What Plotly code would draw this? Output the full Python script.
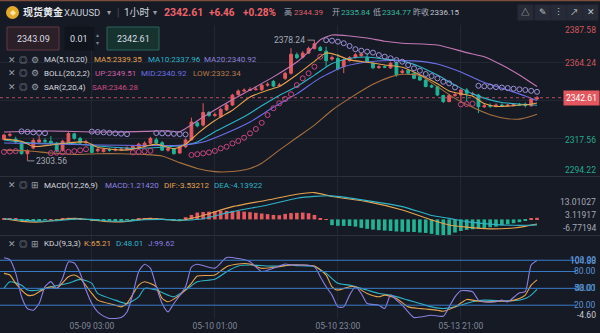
import plotly.graph_objects as go

W, H = 600, 333

# ---------------- 1-hour XAUUSD candles (oldest first) ----------------
opens = [2316.8, 2319.4, 2317.0, 2314.8, 2308.0, 2311.5, 2315.3, 2316.2, 2315.7, 2314.3,
         2310.2, 2315.2, 2320.3, 2317.5, 2314.8, 2313.4, 2309.8, 2309.3, 2310.4, 2310.2,
         2310.5, 2310.7, 2311.1, 2312.0, 2312.3, 2314.5, 2316.6, 2314.8, 2310.2, 2311.1,
         2308.4, 2312.3, 2316.6, 2327.1, 2325.7, 2333.5, 2331.7, 2330.8, 2335.1, 2338.1,
         2344.5, 2346.8, 2347.2, 2347.7, 2347.5, 2350.4, 2352.7, 2350.0, 2354.6, 2357.8,
         2369.2, 2367.7, 2370.2, 2373.0, 2373.7, 2371.4, 2366.5, 2366.9, 2361.8, 2365.5,
         2367.4, 2368.7, 2367.4, 2363.9, 2361.3, 2361.8, 2361.1, 2364.2, 2358.2, 2359.6,
         2357.8, 2355.6, 2353.5, 2350.0, 2349.5, 2344.0, 2340.2, 2344.0, 2344.3, 2347.4,
         2345.0, 2344.3, 2337.0, 2337.8, 2337.1, 2338.1, 2337.8, 2337.6, 2338.4, 2338.6,
         2337.6, 2341.8]
highs = [2320.3, 2321.2, 2318.5, 2315.3, 2310.7, 2317.5, 2318.9, 2317.5, 2318.9, 2315.2,
         2316.6, 2321.7, 2321.0, 2318.4, 2316.6, 2314.3, 2311.5, 2311.5, 2311.3, 2311.5,
         2311.9, 2312.5, 2313.4, 2314.8, 2315.7, 2318.4, 2318.0, 2315.7, 2312.0, 2311.5,
         2313.4, 2317.5, 2330.3, 2328.0, 2339.2, 2334.4, 2333.5, 2336.3, 2339.0, 2345.0,
         2347.7, 2348.4, 2349.1, 2349.5, 2351.3, 2352.2, 2353.6, 2351.8, 2358.7, 2373.2,
         2370.6, 2371.5, 2374.2, 2378.24, 2374.7, 2374.2, 2368.7, 2369.7, 2366.9, 2368.3,
         2370.2, 2370.6, 2370.2, 2364.6, 2362.7, 2362.7, 2364.6, 2365.1, 2360.4, 2360.4,
         2358.2, 2356.4, 2354.1, 2350.9, 2350.0, 2344.5, 2345.0, 2345.9, 2348.2, 2348.6,
         2346.3, 2345.0, 2339.1, 2339.1, 2339.1, 2339.1, 2338.9, 2339.2, 2339.4, 2339.7,
         2342.3, 2343.6]
lows = [2316.2, 2318.4, 2314.3, 2307.5, 2303.56, 2310.7, 2314.3, 2313.9, 2313.0, 2308.8,
        2309.3, 2314.8, 2316.6, 2313.9, 2313.9, 2308.4, 2308.8, 2308.8, 2309.3, 2309.5,
        2309.8, 2310.0, 2310.7, 2311.6, 2312.0, 2313.9, 2313.9, 2309.8, 2309.3, 2307.5,
        2308.0, 2311.5, 2316.2, 2324.3, 2324.8, 2330.8, 2330.8, 2330.3, 2334.5, 2337.6,
        2344.0, 2346.3, 2346.8, 2347.0, 2346.8, 2349.5, 2349.1, 2349.5, 2353.6, 2356.9,
        2366.5, 2366.9, 2369.7, 2372.5, 2371.4, 2361.8, 2365.5, 2359.6, 2357.8, 2365.1,
        2366.9, 2367.8, 2364.2, 2360.4, 2360.4, 2360.9, 2360.4, 2355.5, 2357.3, 2356.9,
        2354.1, 2353.2, 2349.1, 2348.6, 2343.6, 2339.4, 2339.9, 2343.1, 2339.4, 2340.4,
        2344.0, 2333.1, 2336.3, 2336.3, 2336.8, 2337.2, 2337.2, 2337.4, 2337.6, 2336.6,
        2337.2, 2341.3]
closes = [2319.5, 2319.9, 2315.2, 2308.0, 2309.8, 2316.2, 2316.5, 2315.7, 2314.8, 2309.7,
          2315.7, 2320.5, 2317.5, 2314.8, 2315.2, 2308.8, 2310.7, 2310.7, 2310.2, 2310.7,
          2310.8, 2311.6, 2312.5, 2313.9, 2314.5, 2317.5, 2314.6, 2310.2, 2311.1, 2308.0,
          2312.5, 2316.5, 2327.6, 2325.2, 2333.5, 2331.7, 2332.1, 2335.4, 2338.1, 2344.2,
          2346.8, 2347.2, 2347.7, 2347.9, 2350.4, 2350.9, 2349.8, 2350.4, 2357.7, 2369.5,
          2367.4, 2370.2, 2373.1, 2376.0, 2371.8, 2365.5, 2367.4, 2360.4, 2366.0, 2367.4,
          2369.2, 2369.7, 2364.9, 2361.1, 2361.8, 2361.5, 2363.9, 2356.8, 2359.1, 2357.8,
          2354.6, 2353.5, 2349.5, 2349.3, 2344.3, 2340.2, 2344.0, 2344.5, 2347.4, 2345.3,
          2345.2, 2337.1, 2337.6, 2337.4, 2338.1, 2337.8, 2338.0, 2338.4, 2338.2, 2337.8,
          2341.8, 2342.61]

# Parabolic SAR(2,20,4), one dot per candle
sar = [2309.1, 2309.3, 2309.6,
       2321.8, 2321.5, 2321.2, 2320.9, 2320.7,
       2308.4, 2308.6, 2308.8, 2309.1, 2309.6, 2310.1, 2310.8,
       2321.7, 2321.4, 2321.2, 2320.9, 2320.6, 2320.4, 2320.1,
       2308.8, 2309.1, 2309.5, 2309.8,
       2320.8, 2320.6, 2320.5, 2320.3, 2320.1, 2319.9,
       2307.2, 2307.7, 2308.2, 2308.8, 2309.7, 2311.3, 2312.3, 2314.4, 2315.9, 2317.9,
       2320.6, 2323.3, 2327.1, 2331.9, 2336.1, 2339.2, 2341.8, 2344.8, 2350.4, 2354.6,
       2357.7, 2361.8, 2368.0,
       2378.2, 2377.9, 2377.3, 2376.3, 2374.6, 2372.6, 2371.7, 2371.1, 2370.5, 2369.0,
       2368.0, 2367.0, 2365.9, 2364.9, 2362.8, 2360.8, 2359.3, 2357.3, 2356.0, 2354.6,
       2352.5, 2351.5, 2349.0,
       2338.5, 2338.7, 2338.9,
       2350.0, 2349.7, 2349.5, 2349.2, 2348.9, 2348.6, 2348.2, 2347.8, 2347.4, 2346.9, 2346.28]

# Moving averages / Bollinger bands sampled along the candle index
ma5_idx = [0, 3, 5, 8, 11, 14, 16, 20, 22, 24, 26, 29, 31, 33, 36, 39, 42, 45, 47, 50, 53, 55, 57,
           59, 62, 65, 68, 71, 74, 76, 78, 80, 82, 84, 86, 88, 90, 91]
ma5_val = [2317.0, 2315.7, 2312.5, 2313.4, 2314.8, 2315.2, 2312.0, 2310.2, 2310.7, 2312.5, 2313.9,
           2311.1, 2313.9, 2320.3, 2328.5, 2334.9, 2343.1, 2347.3, 2349.5, 2356.8, 2365.1, 2370.3,
           2368.8, 2366.0, 2364.6, 2362.9, 2361.4, 2356.8, 2351.3, 2346.8, 2345.0, 2343.6, 2339.0,
           2337.2, 2337.4, 2338.1, 2338.6, 2339.35]
ma10_idx = [0, 5, 11, 16, 22, 28, 31, 33, 36, 41, 44, 47, 50, 53, 56, 59, 62, 65, 68, 71, 74, 77,
            80, 83, 85, 88, 91]
ma10_val = [2316.5, 2314.6, 2314.4, 2312.8, 2311.3, 2312.3, 2313.4, 2315.2, 2321.6, 2330.8, 2337.6,
            2344.0, 2349.5, 2356.6, 2363.7, 2366.9, 2367.8, 2366.5, 2365.4, 2361.8, 2356.6, 2350.4,
            2345.0, 2341.3, 2339.7, 2338.7, 2337.96]
mid_idx = [0, 8, 16, 24, 30, 34, 38, 42, 46, 50, 54, 58, 62, 66, 70, 74, 78, 82, 86, 89, 91]
mid_val = [2314.6, 2314.0, 2313.4, 2313.1, 2313.2, 2315.2, 2320.8, 2327.6, 2336.7, 2345.0, 2354.9,
           2361.8, 2364.7, 2365.6, 2365.4, 2363.5, 2358.5, 2352.0, 2347.4, 2343.7, 2340.92]
up_idx = [0, 8, 16, 24, 28, 30, 34, 38, 42, 46, 50, 52, 54, 56, 59, 62, 65, 68, 74, 79, 82, 85, 88, 91]
up_val = [2321.4, 2322.0, 2321.4, 2321.8, 2322.2, 2321.6, 2330.7, 2339.4, 2347.4, 2355.5, 2364.7,
          2371.0, 2378.5, 2381.4, 2380.8, 2379.5, 2377.5, 2376.3, 2375.2, 2370.5, 2368.0, 2362.8,
          2356.7, 2349.51]
low_idx = [0, 4, 8, 12, 16, 20, 24, 27, 30, 33, 36, 39, 42, 44, 47, 50, 53, 56, 59, 63, 66, 68, 71,
           74, 77, 80, 83, 86, 88, 90, 91]
low_val = [2310.2, 2309.8, 2308.4, 2307.5, 2308.0, 2308.0, 2307.5, 2306.6, 2302.5, 2298.9, 2296.9,
           2297.0, 2298.9, 2302.1, 2310.2, 2318.0, 2325.7, 2334.9, 2342.2, 2350.9, 2355.5, 2357.1,
           2356.4, 2349.5, 2342.2, 2336.7, 2332.1, 2329.6, 2329.4, 2331.2, 2332.34]

# MACD(12,26,9)
macd_hist = [0.8, 0.9, 0.6, -0.8, -1.2, -1.0, -0.6, -0.3, 0.3, -0.2, 0.5, 1.2, 1.0, 0.5, 0.2, -0.5,
             -0.9, -1.0, -0.9, -0.8, -0.6, -0.4, -0.1, 0.4, 0.9, 1.3, 0.9, 0.3, -0.3, -0.8, -0.5, 1.7,
             3.4, 5.2, 5.6, 5.9, 6.3, 6.5, 6.5, 6.5, 6.3, 5.9, 5.5, 5.0, 4.5, 4.0, 3.4, 3.2, 4.2, 4.8,
             5.0, 5.2, 4.7, 3.4, 0.9, 0.3,
             -4.4, -4.9, -4.9, -5.0, -5.5, -6.5, -7.2, -7.8, -8.2, -8.5, -8.8, -9.2, -9.4, -9.5,
             -9.6, -10.0, -10.3, -11.0, -11.8, -12.2, -11.8, -10.0, -8.8, -8.0, -7.5, -7.0, -6.5,
             -6.0, -5.5, -4.4, -3.7, -2.9, -2.1, -0.7, 0.4, 1.2142]
dif_idx = [0, 3, 6, 9, 12, 15, 18, 21, 24, 27, 30, 31, 34, 39, 45, 50, 53, 56, 62, 68, 73, 76, 79,
           83, 87, 89, 91]
dif_val = [0.5, -1.5, -2.0, -0.5, 0.8, -0.5, -1.8, -1.5, 0.5, 0.2, -1.0, -0.2, 3.0, 9.7, 14.8, 19.2,
           20.4, 17.4, 13.5, 7.2, -0.4, -4.2, -5.9, -7.2, -6.5, -5.3, -3.53212]
dea_idx = dif_idx
dea_val = [0.5, -0.5, -1.3, -1.0, 0.2, 0.0, -1.2, -1.3, -0.3, 0.0, -0.6, -0.6, 0.5, 5.9, 11.0, 16.1,
           17.5, 17.9, 14.3, 9.7, 3.0, 0.8, -1.7, -3.6, -4.5, -4.5, -4.13922]

# KDJ(9,3,3)
k_idx = [0, 1, 2, 4, 5, 7, 8, 9, 11, 12, 13, 15, 16, 19, 20, 21, 23, 24, 26, 27, 28, 30, 32, 33, 36,
         38, 40, 42, 44, 47, 49, 51, 53, 55, 56, 57, 59, 60, 62, 64, 65, 67, 69, 71, 74, 75, 77, 79,
         80, 82, 85, 86, 88, 89, 90, 91]
k_val = [76.7, 73.7, 58.9, 37.9, 37.9, 49.9, 52.8, 49.9, 70.7, 73.7, 67.7, 40.9, 29, 20, 17, 23, 55.7,
         61.7, 52.8, 32, 26, 37.9, 58.9, 71.9, 73.7, 88.6, 93.4, 93.4, 85.7, 88.6, 91.6, 91.6, 89.8,
         73.7, 52.8, 46.9, 52.8, 52.8, 40.9, 34.9, 37.9, 32, 17, 14, 11, 9.3, 17, 30.2, 29, 26, 27.2,
         27.2, 32, 37.9, 55.7, 65.21]
d_idx = [0, 1, 3, 4, 6, 8, 11, 13, 15, 16, 19, 21, 23, 24, 26, 28, 29, 31, 33, 36, 38, 40, 42, 45,
         47, 49, 50, 53, 55, 57, 59, 62, 64, 66, 69, 71, 73, 75, 77, 80, 82, 85, 87, 89, 90, 91]
d_val = [49.9, 61.7, 55.7, 46.9, 46.9, 52.8, 58.9, 66, 58.9, 40.9, 29, 23, 34.9, 49.9, 46.9, 37.9,
         34.9, 46.9, 61.7, 66, 79.6, 89.8, 91.6, 89.8, 89.8, 91.6, 90.4, 88.6, 76.7, 58.9, 55.7, 46.9,
         40.9, 37.9, 29, 23, 17, 14, 17, 26, 29, 27.8, 27.8, 32, 37.9, 48.01]
j_idx = [0, 1, 2, 3, 4, 5, 6, 7, 8, 9, 10, 11, 12, 13, 14, 15, 16, 17, 18, 20, 21, 22, 23, 24, 25,
         26, 27, 28, 29, 31, 32, 33, 36, 38, 40, 42, 44, 46, 48, 49, 51, 53, 54, 55, 56, 57, 58, 59,
         60, 61, 62, 64, 65, 66, 67, 68, 69, 70, 71, 73, 75, 76, 77, 78, 80, 81, 82, 84, 85, 86, 88,
         89, 90, 91]
j_val = [104.5, 101, 77, 35, 14, 11, 23, 53, 62, 50, 68, 97, 95, 77, 47, 23, 8, 0.5, -3.8, -2, 8, 40,
         80, 93, 86, 53, 23, 8, 23, 53, 88, 93, 86, 104.88, 103, 97.5, 80, 85.7, 93.4, 91.6, 91.6,
         88.6, 70.7, 52.8, 37.9, 17, 17, 37.9, 52.8, 40.9, 23, 20, 14, 37.9, 29, 20, 8, -2, -1, 2,
         0.4, 17, 34.9, 45.7, 44, 29, 26, 26, 29, 26, 42, 44, 91.6, 99.62]

# axis tick data
time_tick_idx = [15, 36, 57, 78]
time_tick_txt = ["05-09 03:00", "05-10 01:00", "05-10 23:00", "05-13 21:00"]
price_ticks = [2387.58, 2364.24, 2340.90, 2317.56, 2294.22]
macd_ticks = [13.01027, 3.11917, -6.77194]
kdj_levels = [100, 80, 50, 20]

# ---------------- styling ----------------
BG = "#161a25"
GRID = "#222734"
SEP = "#2b303c"
RED = "#e35a5f"
GREEN = "#22b394"
C_MA5 = "#e6a34f"
C_MA10 = "#2fb3c8"
C_MID = "#6b6fe6"
C_UP = "#c477b6"
C_LOW = "#a8703f"
C_SAR_UP = "#9d90d8"
C_SAR_DN = "#c8467f"
C_J = "#8d7fe0"
C_LVL = "#3a7cc8"
TXT = "#a5aab5"
FONT = "Roboto, 'Noto Sans CJK SC', sans-serif"

n = len(closes)
idx = list(range(n))

fig = go.Figure()

def line(xs, ys, color, yaxis="y", width=1.1):
    fig.add_trace(go.Scatter(x=xs, y=ys, mode="lines", yaxis=yaxis, hoverinfo="skip",
                             line=dict(color=color, width=width, shape="spline", smoothing=0.6)))

# main panel
line(up_idx, up_val, C_UP)
line(low_idx, low_val, C_LOW)
line(ma10_idx, ma10_val, C_MA10)
line(mid_idx, mid_val, C_MID)
line(ma5_idx, ma5_val, C_MA5)

fig.add_trace(go.Candlestick(
    x=idx, open=opens, high=highs, low=lows, close=closes, whiskerwidth=0,
    increasing=dict(line=dict(color=RED, width=1), fillcolor=RED),
    decreasing=dict(line=dict(color=GREEN, width=1), fillcolor=GREEN),
    hoverinfo="skip", yaxis="y"))

sar_colors = [C_SAR_UP if s > c else C_SAR_DN for s, c in zip(sar, closes)]
fig.add_trace(go.Scatter(x=idx, y=sar, mode="markers", yaxis="y", hoverinfo="skip",
                         marker=dict(symbol="circle-open", size=5, color=sar_colors,
                                     line=dict(width=1, color=sar_colors))))

# MACD panel
fig.add_trace(go.Bar(x=idx, y=macd_hist, yaxis="y2", width=0.62, hoverinfo="skip",
                     marker=dict(color=[RED if v >= 0 else GREEN for v in macd_hist], line=dict(width=0))))
line(dif_idx, dif_val, C_MA5, "y2")
line(dea_idx, dea_val, C_MA10, "y2")

# KDJ panel
line(d_idx, d_val, C_MA10, "y3")
line(k_idx, k_val, C_MA5, "y3")
line(j_idx, j_val, C_J, "y3")

# ---------------- layout ----------------
XR = 565 / W

def py(p):
    return 1 - p / H

fig.update_layout(
    width=W, height=H, margin=dict(l=0, r=0, t=0, b=0),
    paper_bgcolor=BG, plot_bgcolor=BG, showlegend=False,
    font=dict(family=FONT, color=TXT), boxgap=0.32, bargap=0.3,
    xaxis=dict(domain=[0, XR], range=[-0.683, 95.78], anchor="y3",
               tickvals=time_tick_idx, ticktext=time_tick_txt,
               tickfont=dict(size=8.5, color="#80869a"), ticks="",
               showgrid=True, gridcolor=GRID, gridwidth=1, zeroline=False, showline=False,
               rangeslider=dict(visible=False), fixedrange=True),
    yaxis=dict(domain=[py(176), py(25)], range=[2294.22, 2387.58], anchor="x",
               tickvals=price_ticks, showticklabels=False, showgrid=True, gridcolor=GRID,
               zeroline=False, ticks=""),
    yaxis2=dict(domain=[py(236), py(177)], range=[-12.63, 32.26], anchor="x",
                showticklabels=False, showgrid=False, zeroline=False, ticks=""),
    yaxis3=dict(domain=[py(319), py(236)], range=[-4.6, 143.2], anchor="x",
                showticklabels=False, showgrid=False, zeroline=False, ticks=""),
)

shapes = []
# panel separators and top border
for p in (176.5, 235.5):
    shapes.append(dict(type="line", xref="paper", yref="paper", x0=0, x1=1, y0=py(p), y1=py(p),
                       line=dict(color=SEP, width=1)))
shapes.append(dict(type="line", xref="paper", yref="paper", x0=0, x1=1, y0=py(0.6), y1=py(0.6),
                   line=dict(color="#7b4d3b", width=1.5)))
# last price dotted line
shapes.append(dict(type="line", xref="paper", yref="y", x0=0, x1=567 / W, y0=closes[-1], y1=closes[-1],
                   line=dict(color="#b3525c", width=1, dash="dot")))
# KDJ reference levels
for lv in kdj_levels:
    shapes.append(dict(type="line", xref="paper", yref="y3", x0=0, x1=576 / W, y0=lv, y1=lv,
                       line=dict(color=C_LVL, width=1)))

def rect(x0, y0, x1, y1, fill, border=None):
    shapes.append(dict(type="rect", xref="paper", yref="paper", x0=x0 / W, x1=x1 / W,
                       y0=py(y1), y1=py(y0), fillcolor=fill, layer="above",
                       line=dict(color=border or fill, width=1)))

# header coin icon
shapes.append(dict(type="circle", xref="paper", yref="paper", x0=6 / W, x1=19 / W, y0=py(19), y1=py(6),
                   fillcolor="#e3aa2a", line=dict(width=0)))
# header buttons
for x0 in (518, 535, 551, 567, 583):
    rect(x0, 5, x0 + 15, 20, "#262b37")
# order boxes
rect(7, 27, 59, 50, "#2b1f28", "#603844")
rect(65, 27, 94, 50, "#10141d")
rect(107, 27, 159, 50, "#163330", "#2a665b")
fig.update_layout(shapes=shapes)

ann = []

def label(text, x, y, color, size=8, anchor="left", bold=False):
    ann.append(dict(text=f"<b>{text}</b>" if bold else text, x=x / W, y=py(y), xref="paper",
                    yref="paper", xanchor=anchor, yanchor="middle", showarrow=False,
                    font=dict(color=color, size=size)))

# header line
label("◆", 12.5, 12.5, "#fbe7a6", 6, "center")
label("现货黄金", 21, 12.5, "#e8eaef", 10, bold=True)
label("XAUUSD", 62, 12.5, "#c8ccd5", 9.5)
label("▾", 105, 12.5, "#9aa0ab", 8)
label("|", 115, 12.5, "#4a505e", 10)
label("1小时", 122, 12.5, "#d2d5dc", 10)
label("▾", 151, 12.5, "#9aa0ab", 8)
label("2342.61", 162, 12.5, "#f0626a", 10.5, bold=True)
label("+6.46", 207, 12.5, "#f0626a", 10, bold=True)
label("+0.28%", 241, 12.5, "#f0626a", 10, bold=True)
label("高", 282, 12.5, "#a7acb7", 8)
label("2344.39", 292, 12.5, "#df5f66", 8)
label("开", 330, 12.5, "#a7acb7", 8)
label("2335.84", 339, 12.5, "#37b99d", 8)
label("低", 371, 12.5, "#a7acb7", 8)
label("2334.77", 380, 12.5, "#37b99d", 8)
label("昨收", 411, 12.5, "#a7acb7", 8)
label("2336.15", 428, 12.5, "#c3c7cf", 8)
for x0, ic in zip((518, 535, 551, 567, 583), ("△", "✎", "⋮", "↗", "✕")):
    label(ic, x0 + 7.5, 12.5, "#c3c7cf", 8.5, "center")

# order boxes text
label("2343.09", 33, 38.5, "#dcdde2", 9, "center")
label("0.01", 79, 38.5, "#dcdde2", 9, "center")
label("▴", 97.5, 34, "#7d8390", 6, "center")
label("▾", 97.5, 43, "#7d8390", 6, "center")
label("2342.61", 133, 38.5, "#dcdde2", 9, "center")

# indicator legends
def icons(y, third):
    label("✕", 12, y, "#9aa0ab", 8.5, "center")
    label("◎", 23.5, y, "#9aa0ab", 8.5, "center")
    label(third, 35, y, "#9aa0ab", 8.5, "center")

icons(60, "⚙")
label("MA(5,10,20)", 42, 60, "#d6d9df")
label("MA5:2339.35", 92, 60, C_MA5)
label("MA10:2337.96", 146, 60, C_MA10)
label("MA20:2340.92", 202, 60, "#8f83d9")
icons(73.5, "⚙")
label("BOLL(20,2,2)", 42, 73.5, "#d6d9df")
label("UP:2349.51", 93, 73.5, "#cf5fa8")
label("MID:2340.92", 139, 73.5, C_MID)
label("LOW:2332.34", 191, 73.5, "#b97a45")
icons(87, "⚙")
label("SAR(2,20,4)", 42, 87, "#d6d9df")
label("SAR:2346.28", 90, 87, "#cc4a82")

icons(185, "⊞")
label("MACD(12,26,9)", 42, 185, "#d6d9df")
label("MACD:1.21420", 103, 185, "#8f83e0")
label("DIF:-3.53212", 162, 185, C_MA5)
label("DEA:-4.13922", 212, 185, C_MA10)

icons(243.5, "⊞")
label("KDJ(9,3,3)", 42, 243.5, "#d6d9df")
label("K:65.21", 82, 243.5, C_MA5)
label("D:48.01", 114, 243.5, C_MA10)
label("J:99.62", 146, 243.5, C_J)

# high / low callouts
ann.append(dict(text="2378.24", x=highs.index(max(highs)), y=max(highs), xref="x", yref="y",
                showarrow=True, arrowhead=0, arrowwidth=1, arrowcolor="#8a909c", ax=-7, ay=0,
                xanchor="right", yanchor="middle", font=dict(color=TXT, size=8.5)))
ann.append(dict(text="2303.56", x=lows.index(min(lows)), y=min(lows), xref="x", yref="y",
                showarrow=True, arrowhead=0, arrowwidth=1, arrowcolor="#8a909c", ax=7, ay=0,
                xanchor="left", yanchor="middle", font=dict(color=TXT, size=8.5)))

# price axis labels (the one under the last-price tag stays hidden)
price_cols = ["#cf575c", "#cf575c", "#cf575c", "#27a88d", "#27a88d"]
price_shift = [-5, 0, 0, -2, 6]
for v, c, s in zip(price_ticks, price_cols, price_shift):
    if abs(v - closes[-1]) < 4:
        continue
    ann.append(dict(text=f"{v:.2f}", x=598 / W, y=v, xref="paper", yref="y", xanchor="right",
                    yanchor="middle", yshift=s, showarrow=False, font=dict(color=c, size=8.5)))
ann.append(dict(text=f"{closes[-1]:.2f}", x=1, y=closes[-1], xref="paper", yref="y", xanchor="right",
                yanchor="middle", showarrow=False, bgcolor="#e3585e", borderpad=2,
                font=dict(color="#ffffff", size=8.5)))

# MACD axis labels
for v in macd_ticks:
    ann.append(dict(text=f"{v:.5f}", x=598 / W, y=v, xref="paper", yref="y2", xanchor="right",
                    yanchor="middle", showarrow=False, font=dict(color=TXT, size=8.5)))

# KDJ axis labels
kdj_labels = [(104.88, "104.88", 3.5), (100, "100.00", 0), (80, "80.00", 0), (50, "50.00", 0),
              (48.01, "48.01", 1), (20, "20.00", 0)]
for v, t, s in kdj_labels:
    ann.append(dict(text=t, x=598 / W, y=v, xref="paper", yref="y3", xanchor="right",
                    yanchor="middle", yshift=-s if v > 100 else s, showarrow=False,
                    font=dict(color="#5b95d6", size=8.5)))
ann.append(dict(text="-4.60", x=598 / W, y=-4.6, xref="paper", yref="y3", xanchor="right",
                yanchor="middle", yshift=4, showarrow=False, font=dict(color="#c9ccd4", size=8.5)))

fig.update_layout(annotations=ann)
fig.write_html("out.html")
